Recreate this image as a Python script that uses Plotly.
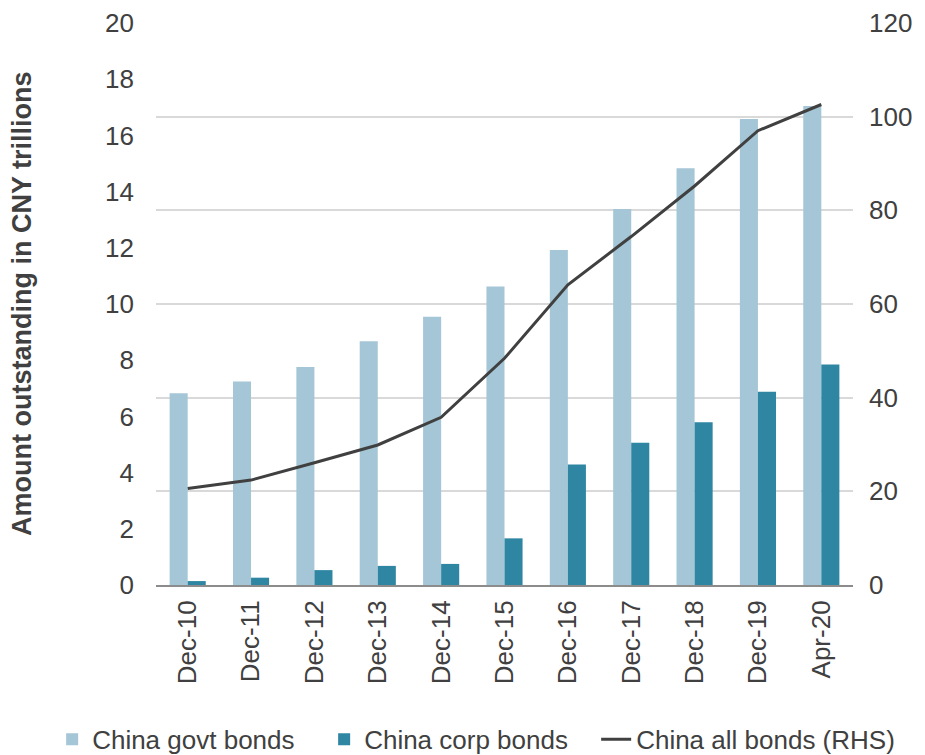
import plotly.graph_objects as go

categories = ["Dec-10", "Dec-11", "Dec-12", "Dec-13", "Dec-14", "Dec-15",
              "Dec-16", "Dec-17", "Dec-18", "Dec-19", "Apr-20"]
govt_bonds = [6.82, 7.24, 7.76, 8.67, 9.55, 10.62, 11.92, 13.38, 14.83, 16.58, 17.05]
corp_bonds = [0.14, 0.26, 0.53, 0.68, 0.75, 1.66, 4.29, 5.06, 5.79, 6.88, 7.85]
all_bonds = [20.6, 22.4, 26.1, 29.9, 35.8, 48.4, 64.1, 74.4, 85.2, 97.0, 102.6]

left_ticks = [0, 2, 4, 6, 8, 10, 12, 14, 16, 18, 20]
right_ticks = [0, 20, 40, 60, 80, 100, 120]

FONT = "Liberation Sans, Arial, sans-serif"
TXT = "#404040"
FS = 26

fig = go.Figure()
fig.add_trace(go.Bar(x=categories, y=govt_bonds, name="China govt bonds",
                     legendwidth=227,
                     marker=dict(color="#a5c6d6", line=dict(width=0))))
fig.add_trace(go.Bar(x=categories, y=corp_bonds, name="China corp bonds",
                     legendwidth=227,
                     marker=dict(color="#2e86a3", line=dict(width=0))))
fig.add_trace(go.Scatter(x=categories, y=all_bonds, name="China all bonds (RHS)",
                         mode="lines", yaxis="y2", legendwidth=259,
                         line=dict(color="#404040", width=3)))

# page body has an 8px margin, so the figure is sized/offset to compensate
fig.update_layout(
    width=917, height=747,
    margin=dict(l=148, r=72, t=15, b=170, autoexpand=False),
    paper_bgcolor="white", plot_bgcolor="white",
    font=dict(family=FONT, size=FS, color=TXT),
    barmode="group", bargap=0.43, bargroupgap=0,
    showlegend=True,
    legend=dict(orientation="h", x=-0.149, xanchor="left",
                y=-0.2745, yanchor="middle",
                font=dict(size=FS, color=TXT), traceorder="normal",
                itemwidth=30, tracegroupgap=0),
    xaxis=dict(type="category", tickangle=-90, showgrid=False,
               showline=True, linecolor="#8c8c8c", linewidth=2,
               ticks="", ticklabelstandoff=3,
               tickfont=dict(size=FS, color=TXT)),
    yaxis=dict(range=[0, 20], tickvals=left_ticks, showgrid=False,
               zeroline=False, showline=False, ticks="",
               ticklabelstandoff=21, tickfont=dict(size=FS, color=TXT)),
    yaxis2=dict(range=[0, 120], tickvals=right_ticks, overlaying="y",
                side="right", showgrid=True, gridcolor="#d9d9d9", gridwidth=1.5,
                zeroline=False, showline=False, ticks="",
                ticklabelstandoff=15, tickfont=dict(size=FS, color=TXT)),
    annotations=[dict(text="<b>Amount outstanding in CNY trillions</b>",
                      x=0, xref="paper", xanchor="center", xshift=-134,
                      y=0.5, yref="paper", yanchor="middle",
                      textangle=-90, showarrow=False,
                      font=dict(size=27, color=TXT, family=FONT))],
)

fig.write_html("out.html")
